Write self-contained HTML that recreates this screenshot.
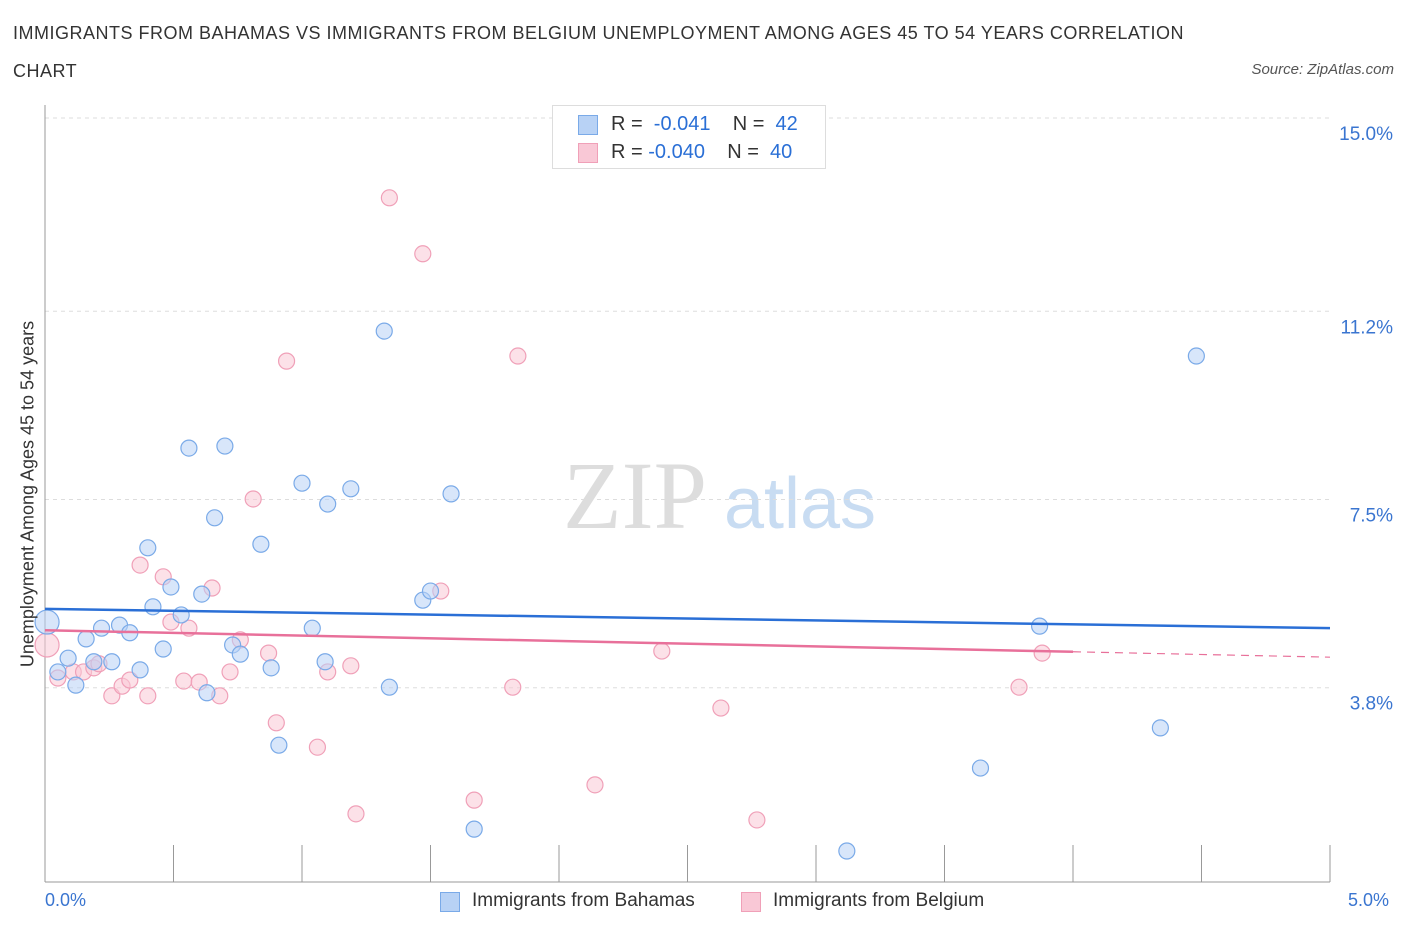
<!DOCTYPE html>
<html><head><meta charset="utf-8"><style>
body{margin:0;background:#fff;font-family:"Liberation Sans",sans-serif;}
#c{position:relative;width:1406px;height:930px;overflow:hidden}
.t{position:absolute;white-space:nowrap}
</style></head><body><div id="c">
<div class="t" style="left:13px;top:14px;font-size:18px;letter-spacing:0.5px;color:#333;line-height:38px">IMMIGRANTS FROM BAHAMAS VS IMMIGRANTS FROM BELGIUM UNEMPLOYMENT AMONG AGES 45 TO 54 YEARS CORRELATION<br>CHART</div>
<div class="t" style="right:12px;top:61px;font-size:15px;color:#555;font-style:italic">Source: ZipAtlas.com</div>
<svg id="s" width="1406" height="930" style="position:absolute;left:0;top:0">
<text x="635" y="528" font-family="Liberation Serif" font-size="96" fill="#ddd" text-anchor="middle">ZIP</text>
<text x="800" y="528" font-family="Liberation Sans" font-size="72" fill="#c8dcf2" text-anchor="middle">atlas</text>
<g id="g"></g>
</svg>
<div style="position:absolute;left:552px;top:105px;width:272px;height:62px;border:1px solid #ddd;background:#fff;font-size:20px;color:#333">
<div style="position:absolute;left:25px;top:9px;width:18px;height:18px;background:#b8d2f5;border:1px solid #7aaae8"></div>
<div class="t" style="left:58px;top:7px">R = <span style="color:#2a6fd6">&nbsp;-0.041</span>&nbsp;&nbsp;&nbsp; N = <span style="color:#2a6fd6">&nbsp;42</span></div>
<div style="position:absolute;left:25px;top:37px;width:18px;height:18px;background:#f9c8d6;border:1px solid #f0a0b8"></div>
<div class="t" style="left:58px;top:35px">R = <span style="color:#2a6fd6">-0.040</span>&nbsp;&nbsp;&nbsp; N = <span style="color:#2a6fd6">&nbsp;40</span></div>
</div>
<div class="t" style="left:45px;top:890px;font-size:18px;color:#3a75d0">0.0%</div>
<div class="t" style="left:1348px;top:890px;font-size:18px;color:#3a75d0">5.0%</div>
<div style="position:absolute;left:440px;top:890px;font-size:19px;color:#333">
<div style="position:absolute;left:0;top:2px;width:18px;height:18px;background:#b8d2f5;border:1px solid #7aaae8"></div>
<div class="t" style="left:32px;top:0">Immigrants from Bahamas</div>
<div style="position:absolute;left:301px;top:2px;width:18px;height:18px;background:#f9c8d6;border:1px solid #f0a0b8"></div>
<div class="t" style="left:333px;top:0">Immigrants from Belgium</div>
</div>
<div class="t" style="left:28px;top:494px;font-size:18px;color:#333;transform:translate(-50%,-50%) rotate(-90deg)">Unemployment Among Ages 45 to 54 years</div>
</div>
<script>
const yTicks=[3.8,7.5,11.2,15.0];
const yTickLabels=["3.8%","7.5%","11.2%","15.0%"];
const blueX=[.008,.05,.09,.12,.16,.19,.22,.26,.29,.33,.37,.40,.42,.46,.49,.53,.56,.61,.63,.66,.70,.73,.76,.84,.88,.91,1.00,1.04,1.09,1.10,1.19,1.32,1.34,1.47,1.50,1.58,1.67,3.12,3.64,3.87,4.34,4.48];
const blueY=[5.09,4.11,4.38,3.85,4.76,4.31,4.97,4.31,5.03,4.88,4.15,6.55,5.39,4.56,5.78,5.23,8.51,5.64,3.70,7.14,8.55,4.64,4.46,6.62,4.19,2.67,7.82,4.97,4.31,7.41,7.71,10.81,3.81,5.52,5.70,7.61,1.02,0.59,2.22,5.01,3.01,10.32];
const pinkX=[.008,.05,.11,.15,.19,.21,.26,.30,.33,.37,.40,.46,.49,.54,.56,.60,.65,.68,.72,.76,.81,.87,.90,.94,1.06,1.10,1.19,1.21,1.34,1.47,1.54,1.67,1.82,1.84,2.14,2.40,2.63,2.77,3.79,3.88];
const pinkY=[4.64,3.99,4.11,4.11,4.19,4.27,3.64,3.83,3.95,6.21,3.64,5.98,5.09,3.93,4.97,3.91,5.76,3.64,4.11,4.74,7.51,4.48,3.11,10.22,2.63,4.11,4.23,1.32,13.43,12.33,5.70,1.59,3.81,10.32,1.89,4.52,3.40,1.20,3.81,4.48];
const blueTrend=[5.35,4.97];
const pinkTrend=[4.93,4.40];
const X=v=>45+v/5*1285, Y=v=>881-v*50.87;
const g=document.getElementById('g'),NS='http://www.w3.org/2000/svg';
function el(t,a){const e=document.createElementNS(NS,t);for(const k in a)e.setAttribute(k,a[k]);g.appendChild(e);return e;}
yTicks.forEach((v,i)=>{
 const l=el('line',{x1:45,x2:1330,y1:Y(v),y2:Y(v),stroke:'#ddd','stroke-dasharray':'4,4'});
 
 
 const t=el('text',{x:1393,y:Y(v)+22,'text-anchor':'end','font-size':19,fill:'#3a75d0'});
 t.textContent=yTickLabels[i];
 
 
});
let ax=el('line',{x1:45,x2:45,y1:105,y2:882,stroke:'#999'});


ax=el('line',{x1:45,x2:1330,y1:882,y2:882,stroke:'#999'});


for(let i=0;i<=10;i++){const tk=el('line',{x1:X(i*0.5),x2:X(i*0.5),y1:845,y2:882,stroke:'#999'});
 
 }
function pts(xs,ys,fill,stroke,name){xs.forEach((x,i)=>{
 const c=el('circle',{cx:X(x),cy:Y(ys[i]),r:i==0?12:8,fill:fill,'fill-opacity':0.55,stroke:stroke,'stroke-width':1.2});
 
 });}
pts(pinkX,pinkY,'#f9c8d6','#f0a0b8','belgium-point');
pts(blueX,blueY,'#b8d2f5','#7aaae8','bahamas-point');
let l=el('line',{x1:X(0),y1:Y(blueTrend[0]),x2:X(5),y2:Y(blueTrend[1]),stroke:'#2a6fd6','stroke-width':2.5});


const pm=pinkTrend[0]+(pinkTrend[1]-pinkTrend[0])*0.8;
l=el('line',{x1:X(0),y1:Y(pinkTrend[0]),x2:X(4),y2:Y(pm),stroke:'#e8709a','stroke-width':2.5});


l=el('line',{x1:X(4),y1:Y(pm),x2:X(5),y2:Y(pinkTrend[1]),stroke:'#e8709a','stroke-width':1.2,'stroke-dasharray':'8,6'});


</script></body></html>
